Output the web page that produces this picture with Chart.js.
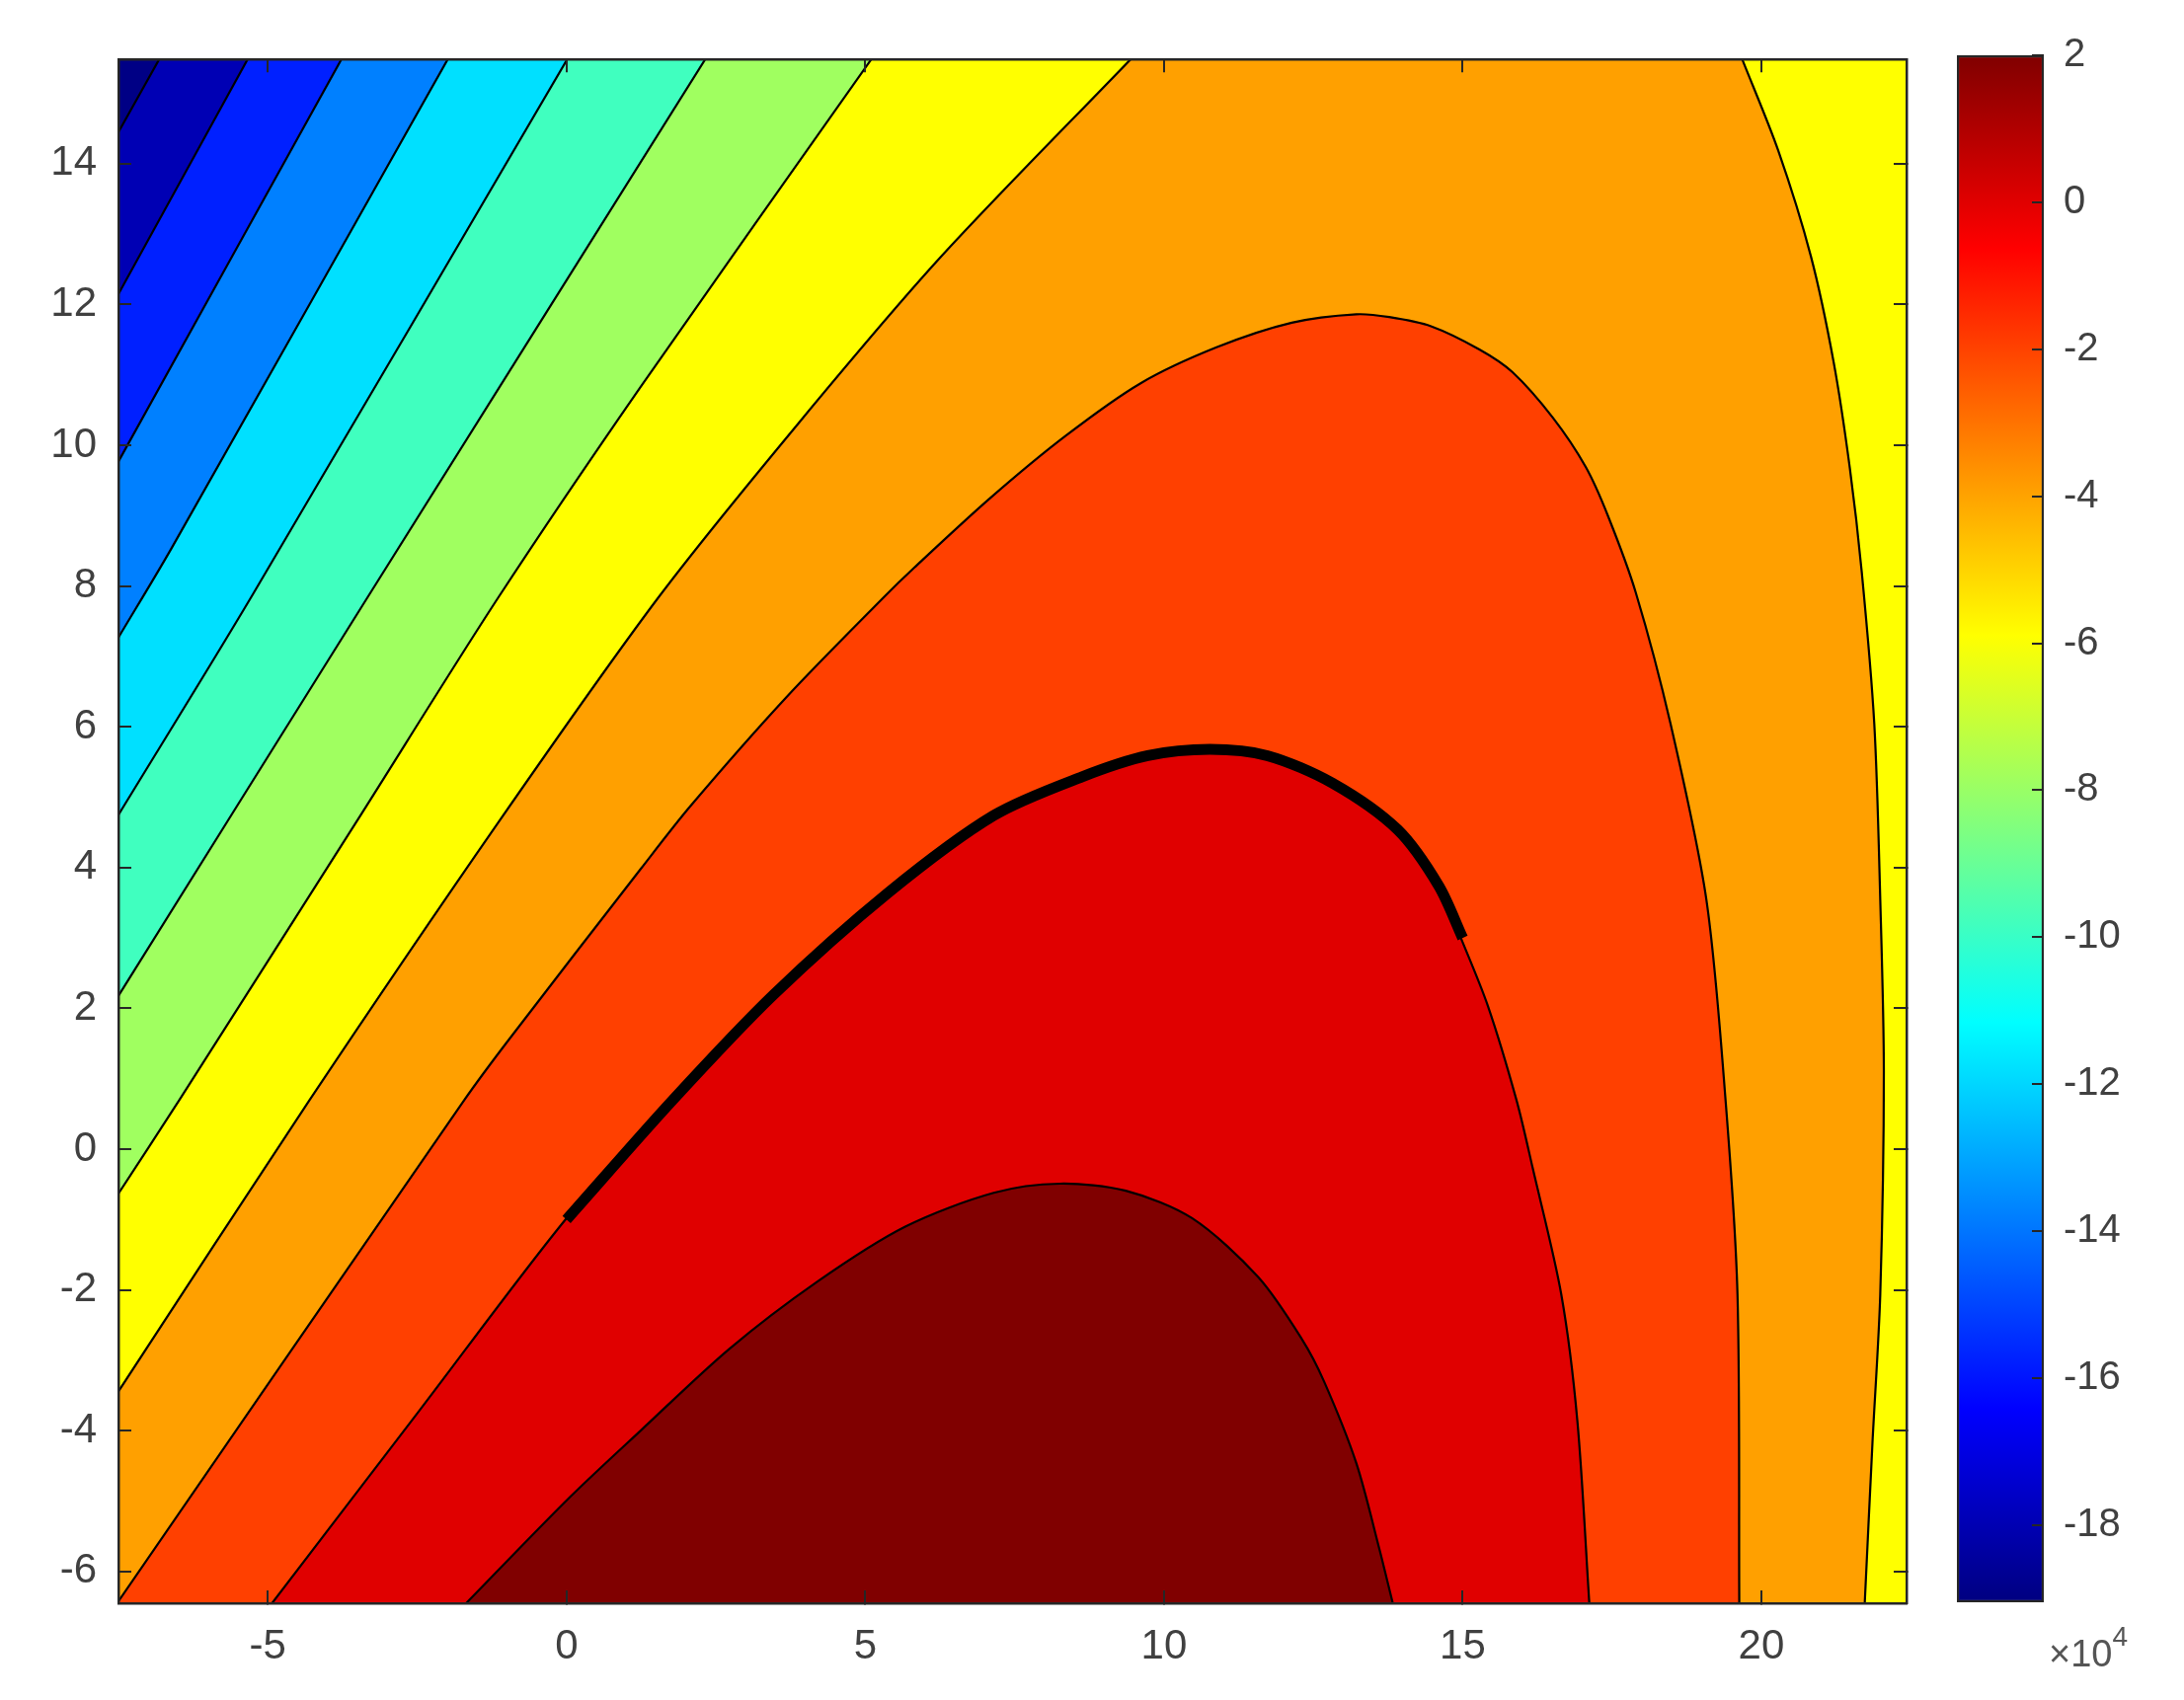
<!DOCTYPE html>
<html>
<head>
<meta charset="utf-8">
<script src="https://cdn.jsdelivr.net/npm/chart.js@4.4.0/dist/chart.umd.min.js"></script>
<style>
  html, body { margin: 0; padding: 0; background: #fff; }
  #wrap { position: relative; width: 2212px; height: 1722px; }
  canvas { position: absolute; top: 0; }
  #plot { left: 0; }
  #cbar { left: 1960px; }
  #exp { position: absolute; left: 2075px; top: 1656px; font: 38px 'Liberation Sans', Arial, sans-serif; line-height: 38px; color: #555; }
  #exp sup { font-size: 28px; vertical-align: baseline; position: relative; top: -21px; }
</style>
</head>
<body>
<div id="wrap">
  <canvas id="plot" width="1960" height="1722"></canvas>
  <canvas id="cbar" width="252" height="1722"></canvas>
  <div id="exp">×10<sup>4</sup></div>
</div>
<script>
// axis limits and ticks
const X_MIN = -7.5, X_MAX = 22.43;
const Y_MIN = -6.45, Y_MAX = 15.48;
const xTicks = [-5, 0, 5, 10, 15, 20];
const yTicks = [-6, -4, -2, 0, 2, 4, 6, 8, 10, 12, 14];
const cbTicks = [-18, -16, -14, -12, -10, -8, -6, -4, -2, 0, 2];
const cbRange = [-19.05, 2];

// contour lines, [x, y]
const cA = [[-7.5, 14.45], [-6.82, 15.48]];
const cB = [[-7.5, 12.15], [-5.34, 15.48]];
const cC = [[-7.5, 9.77], [-3.77, 15.48]];
const cD = [[-7.5, 7.27], [-6.61, 8.54], [-1.99, 15.48]];
const cE = [[-7.5, 4.75], [-5.28, 7.84], [0.01, 15.48]];
const cF = [[-7.5, 2.18], [-3.33, 7.84], [2.32, 15.48]];
const cG = [[-7.5, -0.63], [-6.48, 0.7], [-3.54, 4.62], [-1.14, 7.84], [1.24, 10.83], [5.1, 15.48]];
const cH = [[-7.5, -3.44], [-4.3, 0.7], [-1.16, 4.62], [1.54, 7.84], [3.9, 10.33], [6.26, 12.67], [9.44, 15.48]];
const cHR = [[19.68, 15.48], [20.28, 14.19], [20.83, 12.68], [21.21, 11.18], [21.48, 9.68], [21.68, 8.2],
  [21.89, 6.04], [21.99, 3.54], [22.05, 1.1], [21.99, -2.06], [21.86, -4.16], [21.73, -6.45]];
const cI = [[-7.5, -6.42], [-1.71, 0.7], [-0.98, 1.54], [1.25, 3.99], [2.07, 4.87], [3.68, 6.42], [5.31, 7.84],
  [5.82, 8.26], [7.08, 9.24], [8.35, 10.13], [9.61, 10.88], [10.88, 11.39], [12.14, 11.74], [13.22, 11.86],
  [13.77, 11.82], [14.47, 11.69], [15.28, 11.36], [15.83, 11.04], [16.51, 10.39], [17.06, 9.69],
  [17.43, 9.0], [17.9, 7.9], [18.48, 6.04], [19.08, 3.54], [19.4, 0.7], [19.6, -2.06], [19.63, -6.45]];
const cJ = [[-4.93, -6.45], [-2.47, -3.72], [0, -0.98], [1.78, 0.7], [3.46, 2.19], [5.38, 3.64], [7.15, 4.74],
  [8.63, 5.29], [9.73, 5.59], [10.77, 5.68], [11.73, 5.59], [12.82, 5.2], [13.91, 4.54], [14.6, 3.74],
  [14.97, 3.0], [15.42, 2.04], [15.9, 0.7], [16.17, -0.26], [16.65, -2.06], [16.92, -3.86], [17.12, -6.45]];
const cK = [[-1.68, -6.45], [0.06, -4.94], [1.25, -3.99], [2.72, -2.84], [4.2, -1.88], [5.67, -1.1], [7.15, -0.62],
  [8.26, -0.49], [9.36, -0.59], [10.47, -0.98], [11.58, -1.82], [12.31, -2.7], [12.68, -3.3], [13.22, -4.46],
  [13.6, -5.66], [13.83, -6.45]];
// thick path drawn over the contour
const track = [[0, -1], [1.78, 0.7], [3.46, 2.19], [5.38, 3.64], [7.15, 4.74], [8.63, 5.29], [9.73, 5.59],
  [10.77, 5.68], [11.73, 5.59], [12.82, 5.2], [13.91, 4.54], [14.6, 3.74], [15, 3]];

// band colours, lowest first
const bandColors = ['#000085', '#0000b4', '#0020ff', '#0080ff', '#00e0ff', '#40ffbf',
  '#a0ff60', '#ffff00', '#ffa000', '#ff4000', '#e00000', '#800000'];
const jetStops = [[0, '#000080'], [0.125, '#0000ff'], [0.375, '#00ffff'], [0.625, '#ffff00'], [0.875, '#ff0000'], [1, '#800000']];

const AXIS = '#262626';
const LABEL = '#404040';
const TENSION = 0.3;
Chart.defaults.font.family = "'Liberation Sans', Arial, sans-serif";

const toPts = a => a.map(([x, y]) => ({ x: x, y: y }));
const lx = X_MIN - 1, hx = X_MAX + 1, ly = Y_MIN - 1, hy = Y_MAX + 1;

// carry a line a little past the box so the curve and its fill share the same bends
function ext(l) {
  const push = (a, b) => {
    const dx = a[0] - b[0], dy = a[1] - b[1], d = Math.hypot(dx, dy);
    return [a[0] + dx / d * 0.6, a[1] + dy / d * 0.6];
  };
  return [push(l[0], l[1])].concat(l, [push(l[l.length - 1], l[l.length - 2])]);
}
// superlevel regions, closed outside the plot box
const diag = l => ext(l).concat([[hx, hy], [hx, ly], [lx, ly]]);
const hill = l => ext(l).concat([[lx, ly]]);

function band(pts, color, t) {
  return { data: toPts(pts), showLine: true, fill: 'shape', backgroundColor: color,
    borderColor: 'rgba(0,0,0,0)', borderWidth: 0, pointRadius: 0, pointHoverRadius: 0,
    tension: t, capBezierPoints: false };
}
function edge(pts, w) {
  return { data: toPts(pts), showLine: true, fill: false, borderColor: '#000', borderWidth: w,
    borderCapStyle: 'butt', borderJoinStyle: 'round', pointRadius: 0, pointHoverRadius: 0,
    tension: TENSION, capBezierPoints: false };
}

const datasets = [edge(track, 11)]
  .concat([cA, cB, cC, cD, cE, cF, cG, cH, cHR, cI, cJ, cK].map(l => edge(ext(l), 2.2)))
  .concat([
    band(hill(cK), bandColors[11], TENSION),
    band(hill(cJ), bandColors[10], TENSION),
    band(hill(cI), bandColors[9], TENSION),
    band(ext(cH).concat(ext(cHR), [[lx, ly]]), bandColors[8], TENSION),
    band(diag(cG), bandColors[7], TENSION),
    band(diag(cF), bandColors[6], TENSION),
    band(diag(cE), bandColors[5], TENSION),
    band(diag(cD), bandColors[4], TENSION),
    band(diag(cC), bandColors[3], TENSION),
    band(diag(cB), bandColors[2], TENSION),
    band(diag(cA), bandColors[1], TENSION),
    band([[lx, ly], [hx, ly], [hx, hy], [lx, hy]], bandColors[0], 0)
  ]);

function innerTicks(len) {
  return { drawOnChartArea: false, drawTicks: true, tickLength: -len, lineWidth: 2, tickWidth: 2, tickColor: AXIS, z: 1 };
}
const fixTicks = list => s => { s.ticks = list.map(v => ({ value: v })); };
const tickFont = { size: 42 };
const box = { color: AXIS, width: 2.5, z: 1 };

new Chart(document.getElementById('plot'), {
  type: 'scatter',
  data: { datasets: datasets },
  options: {
    responsive: false, animation: false, events: [], devicePixelRatio: 1,
    layout: { padding: { left: 0, right: 29, top: 57, bottom: 0 } },
    plugins: { legend: { display: false }, tooltip: { enabled: false } },
    scales: {
      x: { type: 'linear', position: 'bottom', min: X_MIN, max: X_MAX,
        afterBuildTicks: fixTicks(xTicks), afterFit: s => { s.height = 98; },
        grid: innerTicks(13), border: box,
        ticks: { color: LABEL, font: tickFont, padding: 32, maxRotation: 0, autoSkip: false } },
      x2: { type: 'linear', position: 'top', min: X_MIN, max: X_MAX,
        afterBuildTicks: fixTicks(xTicks), afterFit: s => { s.height = 0; },
        grid: innerTicks(13), border: box, ticks: { display: false } },
      y: { type: 'linear', position: 'left', min: Y_MIN, max: Y_MAX,
        afterBuildTicks: fixTicks(yTicks), afterFit: s => { s.width = 120; },
        grid: innerTicks(13), border: box,
        ticks: { color: LABEL, font: tickFont, padding: 35, autoSkip: false } },
      y2: { type: 'linear', position: 'right', min: Y_MIN, max: Y_MAX,
        afterBuildTicks: fixTicks(yTicks), afterFit: s => { s.width = 0; },
        grid: innerTicks(13), border: box, ticks: { display: false } }
    }
  }
});

// colour bar
new Chart(document.getElementById('cbar'), {
  type: 'bar',
  data: {
    labels: ['z'],
    datasets: [{
      data: [cbRange],
      backgroundColor: c => {
        const area = c.chart.chartArea;
        if (!area) return 'rgba(0,0,0,0)';
        const g = c.chart.ctx.createLinearGradient(0, area.bottom, 0, area.top);
        jetStops.forEach(s => g.addColorStop(s[0], s[1]));
        return g;
      },
      borderColor: AXIS, borderWidth: 2.5, borderSkipped: false,
      barPercentage: 1, categoryPercentage: 1
    }]
  },
  options: {
    responsive: false, animation: false, events: [], devicePixelRatio: 1,
    layout: { padding: { left: 22, right: 0, top: 55, bottom: 99 } },
    plugins: { legend: { display: false }, tooltip: { enabled: false } },
    scales: {
      x: { display: false },
      y: { position: 'right', min: cbRange[0], max: cbRange[1],
        afterBuildTicks: fixTicks(cbTicks), afterFit: s => { s.width = 142; },
        grid: innerTicks(12), border: { display: false },
        ticks: { color: LABEL, font: { size: 40 }, padding: 32, autoSkip: false } }
    }
  }
});
</script>
</body>
</html>
